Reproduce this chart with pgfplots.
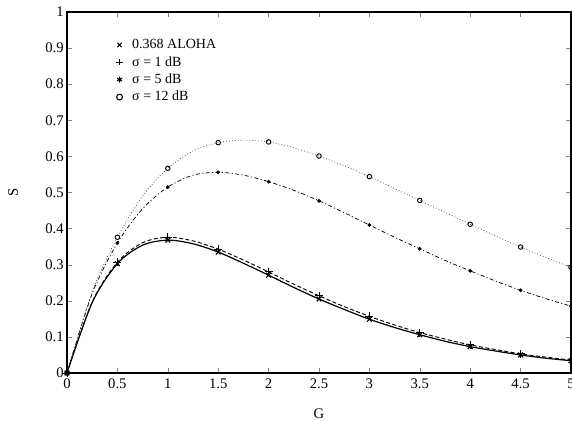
\documentclass[border=0pt]{standalone}
\usepackage{fontspec}
\setmainfont{Liberation Serif}
\usepackage{pgfplots}
\pgfplotsset{compat=1.18}
\begin{document}
\begin{tikzpicture}
\begin{axis}[name=ax, width=378pt, height=270.75pt, scale only axis,
  xmin=0, xmax=5, ymin=0, ymax=1,
  xtick={0,0.5,1,1.5,2,2.5,3,3.5,4,4.5,5},
  ytick={0,0.1,0.2,0.3,0.4,0.5,0.6,0.7,0.8,0.9,1},
  tick align=inside, xtick pos=both, ytick pos=both,
  major tick length=4pt, axis line style={line width=0.8pt},
  /pgf/number format/assume math mode=true,
  tick label style={font=\fontsize{11}{13}\selectfont},
  xticklabel style={yshift=-1pt},
  yticklabel style={xshift=1pt},
  label style={font=\fontsize{11}{13}\selectfont},
  xlabel={G}, ylabel={S},
  xlabel style={at={(axis description cs:0.5,-0.113)}, anchor=center},
  ylabel style={at={(axis description cs:-0.107,0.5)}, anchor=center},
  legend style={draw=none, fill=none, at={(axis cs:0.446,0.94)}, anchor=north west, font=\fontsize{10.5}{12.5}\selectfont, row sep=0.3pt, column sep=5pt},
  legend cell align=left,
  legend image code/.code={\draw[#1] plot coordinates {(0.1cm,0cm)};},
]
% ALOHA
\addplot[black, line width=0.9pt, smooth, mark=x, mark size=2.5pt, mark repeat=2, mark options={solid}, forget plot] coordinates {
(0,0)(0.25,0.195)(0.5,0.303)(0.75,0.354)(1,0.368)(1.25,0.358)(1.5,0.335)(1.75,0.304)(2,0.271)(2.25,0.237)(2.5,0.205)(2.75,0.176)(3,0.149)(3.25,0.126)(3.5,0.106)(3.75,0.088)(4,0.073)(4.25,0.061)(4.5,0.050)(4.75,0.041)(5,0.034)};
% sigma = 1 dB
\addplot[black, line width=0.7pt, dash pattern=on 3pt off 1.8pt, smooth, mark=+, mark size=3pt, mark repeat=2, mark options={solid}, forget plot] coordinates {
(0,0)(0.25,0.197)(0.5,0.307)(0.75,0.361)(1,0.376)(1.25,0.366)(1.5,0.343)(1.75,0.313)(2,0.280)(2.25,0.246)(2.5,0.214)(2.75,0.184)(3,0.157)(3.25,0.133)(3.5,0.112)(3.75,0.094)(4,0.078)(4.25,0.065)(4.5,0.053)(4.75,0.044)(5,0.036)};
% sigma = 5 dB
\addplot[black, line width=0.55pt, dash pattern=on 3pt off 1.8pt on 0.8pt off 1.8pt, smooth, mark=*, mark size=1.1pt, mark repeat=2, mark options={solid}, forget plot] coordinates {
(0,0)(0.25,0.220)(0.5,0.360)(0.75,0.455)(1,0.515)(1.25,0.548)(1.5,0.556)(1.75,0.548)(2,0.530)(2.25,0.506)(2.5,0.477)(2.75,0.444)(3,0.410)(3.25,0.376)(3.5,0.344)(3.75,0.312)(4,0.283)(4.25,0.255)(4.5,0.229)(4.75,0.206)(5,0.185)};
% sigma = 12 dB
\addplot[black!75, line width=0.5pt, dash pattern=on 0.6pt off 1.6pt, smooth, mark=o, mark size=1.7pt, mark repeat=2, mark options={solid, black, line width=0.7pt}, forget plot] coordinates {
(0,0)(0.25,0.225)(0.5,0.376)(0.75,0.490)(1,0.567)(1.25,0.615)(1.5,0.638)(1.75,0.645)(2,0.640)(2.25,0.624)(2.5,0.601)(2.75,0.574)(3,0.544)(3.25,0.511)(3.5,0.478)(3.75,0.445)(4,0.412)(4.25,0.380)(4.5,0.349)(4.75,0.320)(5,0.293)};
\addlegendimage{only marks, black, mark=x, mark size=2.2pt, line width=0.8pt}
\addlegendentry{0.368 ALOHA}
\addlegendimage{only marks, black, mark=+, mark size=2.5pt, line width=0.8pt}
\addlegendentry{σ = 1 dB}
\addlegendimage{only marks, black, mark=asterisk, mark size=2.2pt, line width=0.8pt}
\addlegendentry{σ = 5 dB}
\addlegendimage{only marks, black, mark=o, mark size=2.2pt, line width=0.8pt}
\addlegendentry{σ = 12 dB}
\end{axis}
\pgfresetboundingbox
\path ([xshift=-50.25pt,yshift=-36pt]ax.south west) rectangle ([xshift=0.75pt,yshift=9pt]ax.north east);
\end{tikzpicture}
\end{document}
